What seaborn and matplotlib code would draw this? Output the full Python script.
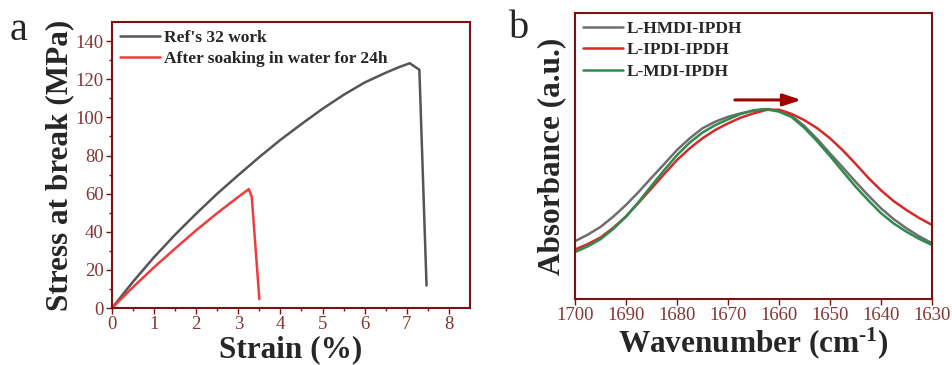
import numpy as np
import pandas as pd
import matplotlib
matplotlib.use('Agg')
import matplotlib.pyplot as plt
import seaborn as sns

# Datos panel a: curvas tensión-deformación
strain_ref = [0, 0.5, 1, 1.5, 2, 2.5, 3, 3.5, 4, 4.5, 5, 5.5, 6, 6.5, 6.8, 7.07, 7.3, 7.47]
stress_ref = [0, 13.8, 26.7, 38.5, 49.5, 60.0, 69.7, 79.2, 88.2, 96.5, 104.5, 111.8, 118.3, 123.4, 126.2, 128.4, 125.0, 11.8]
strain_soak = [0, 0.5, 1, 1.5, 2, 2.5, 3, 3.25, 3.32, 3.5]
stress_soak = [0, 11.0, 21.4, 31.2, 40.8, 49.8, 58.3, 62.4, 58.3, 4.7]

# Datos panel b: FTIR (absorbancia normalizada)
wavenumber = [1700, 1697.5, 1695, 1692.5, 1690, 1687.5, 1685, 1682.5, 1680, 1677.5,
              1675, 1672.5, 1670, 1667.5, 1665, 1662.5, 1660, 1657.5, 1655, 1652.5,
              1650, 1647.5, 1645, 1642.5, 1640, 1637.5, 1635, 1632.5, 1630]
abs_hmdi = [0.202, 0.225, 0.252, 0.288, 0.329, 0.375, 0.424, 0.472, 0.521, 0.562,
            0.597, 0.620, 0.637, 0.649, 0.658, 0.664, 0.658, 0.640, 0.604, 0.559,
            0.509, 0.460, 0.410, 0.362, 0.317, 0.279, 0.247, 0.219, 0.195]
abs_ipdi = [0.173, 0.192, 0.215, 0.249, 0.289, 0.337, 0.387, 0.437, 0.486, 0.527,
            0.562, 0.591, 0.614, 0.634, 0.649, 0.661, 0.662, 0.647, 0.625, 0.597,
            0.562, 0.520, 0.473, 0.424, 0.380, 0.342, 0.311, 0.283, 0.259]
abs_mdi = [0.164, 0.184, 0.209, 0.245, 0.288, 0.340, 0.396, 0.451, 0.503, 0.547,
           0.582, 0.608, 0.628, 0.647, 0.660, 0.664, 0.655, 0.636, 0.598, 0.551,
           0.500, 0.446, 0.393, 0.345, 0.300, 0.264, 0.235, 0.210, 0.189]
series_b = ['L-HMDI-IPDH', 'L-IPDI-IPDH', 'L-MDI-IPDH']

sns.set_theme(style='white')
plt.rcParams['font.family'] = ['Liberation Serif', 'DejaVu Serif']
plt.rcParams['mathtext.fontset'] = 'custom'
plt.rcParams['mathtext.rm'] = 'Liberation Serif:bold'
plt.rcParams['mathtext.it'] = 'Liberation Serif:bold'
plt.rcParams['mathtext.bf'] = 'Liberation Serif:bold'

dark_red = '#7a1212'
tick_red = '#853535'
lab_size = 22.5

fig = plt.figure(figsize=(9.52, 3.65), dpi=100)
ax1 = fig.add_axes([0.1176, 0.156, 0.376, 0.7836])
ax2 = fig.add_axes([0.604, 0.1808, 0.375, 0.7836])

# Panel a
df_ref = pd.DataFrame({'x': strain_ref, 'y': stress_ref})
df_soak = pd.DataFrame({'x': strain_soak, 'y': stress_soak})
sns.lineplot(data=df_ref, x='x', y='y', ax=ax1, sort=False, color='#555555',
             linewidth=1.8, label="Ref's 32 work")
sns.lineplot(data=df_soak, x='x', y='y', ax=ax1, sort=False, color='#f03c3c',
             linewidth=1.8, label='After soaking in water for 24h')
ax1.set_xlim(0, 8.5)
ax1.set_ylim(0, 150)
ax1.set_xticks(range(0, 9))
ax1.set_yticks(range(0, 141, 20))
ax1.set_xticks(np.arange(0.5, 8.5, 1), minor=True)
ax1.set_yticks(range(10, 150, 20), minor=True)
ax1.set_xlabel('Strain (%)', fontsize=lab_size, fontweight='bold', labelpad=1)
ax1.set_ylabel('Stress at break (MPa)', fontsize=lab_size, fontweight='bold', labelpad=1)
ax1.legend(loc='upper left', frameon=False, prop={'weight': 'bold', 'size': 12.5},
           handlelength=2.3, handletextpad=0.25, borderaxespad=0.15, labelspacing=0.3,
           borderpad=0.3)

# Panel b
n = len(wavenumber)
df_b = pd.DataFrame({'w': wavenumber * 3,
                     'a': abs_hmdi + abs_ipdi + abs_mdi,
                     's': [series_b[0]] * n + [series_b[1]] * n + [series_b[2]] * n})
sns.lineplot(data=df_b, x='w', y='a', hue='s', ax=ax2,
             palette=['#6e6e6e', '#d42a2a', '#2e8b4e'], linewidth=1.8)
ax2.set_xlim(1700, 1630)
ax2.set_ylim(0, 1)
ax2.set_xticks(range(1700, 1629, -10))
ax2.set_yticks([])
ax2.set_xlabel(r'Wavenumber (cm$^{\text{-1}}$)', fontsize=lab_size, fontweight='bold', labelpad=1)
ax2.set_ylabel('Absorbance (a.u.)', fontsize=lab_size, fontweight='bold', labelpad=6)
ax2.legend(loc='upper left', frameon=False, prop={'weight': 'bold', 'size': 12.5},
           handlelength=2.3, handletextpad=0.25, borderaxespad=0.15, labelspacing=0.3,
           borderpad=0.3)
ax2.annotate('', xy=(1655.1, 0.696), xytext=(1669.2, 0.696),
             arrowprops=dict(arrowstyle='-|>,head_length=0.9,head_width=0.3',
                             color='#a00000', lw=2.2))

for ax in (ax1, ax2):
    for sp in ax.spines.values():
        sp.set_color(dark_red)
        sp.set_linewidth(1.5)
    ax.tick_params(which='major', direction='out', length=4, width=1,
                   color=dark_red, labelcolor=tick_red, labelsize=13.5, pad=2,
                   bottom=True, left=True)
    ax.tick_params(which='minor', direction='out', length=2.5, width=1,
                   color=dark_red, bottom=True, left=True)
    ax.grid(False)
ax2.tick_params(which='both', left=False)

fig.text(0.010, 0.89, 'a', fontsize=29)
fig.text(0.535, 0.895, 'b', fontsize=29)

fig.savefig('out.png', dpi=100)
